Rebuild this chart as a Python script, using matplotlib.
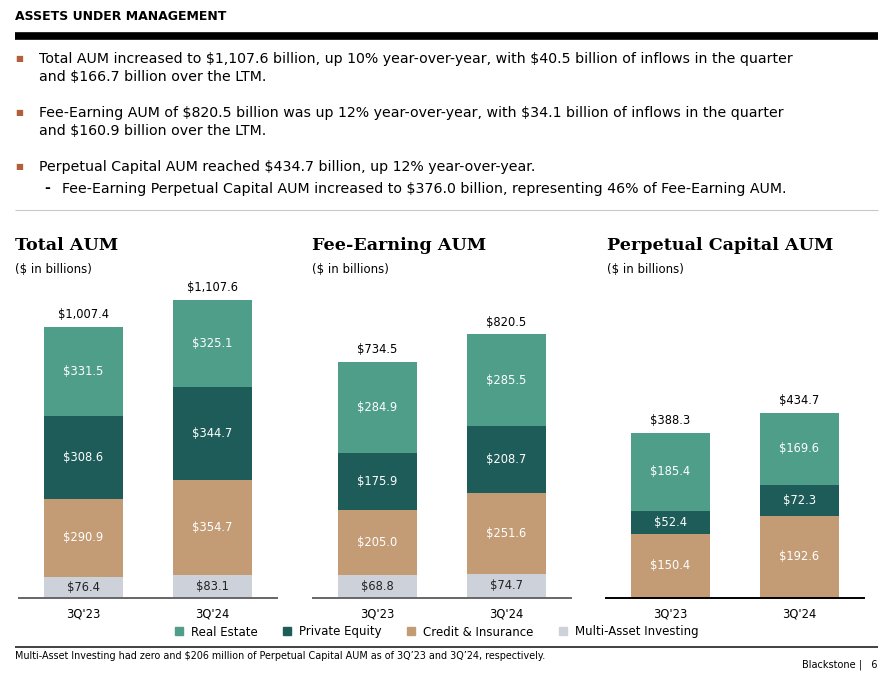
import numpy as np
import matplotlib.pyplot as plt
from matplotlib.lines import Line2D

plt.rcParams['text.parse_math'] = False
plt.rcParams['font.family'] = ['DejaVu Sans']

# data ($ in billions)
quarters = ["3Q'23", "3Q'24"]
segments = ["Real Estate", "Private Equity", "Credit & Insurance", "Multi-Asset Investing"]
colors = ["#4f9e8a", "#1e5c59", "#c39c76", "#cdd1d9"]

total_re = [331.5, 325.1]
total_pe = [308.6, 344.7]
total_ci = [290.9, 354.7]
total_mai = [76.4, 83.1]
total_sum = [1007.4, 1107.6]

fee_re = [284.9, 285.5]
fee_pe = [175.9, 208.7]
fee_ci = [205.0, 251.6]
fee_mai = [68.8, 74.7]
fee_sum = [734.5, 820.5]

perp_re = [185.4, 169.6]
perp_pe = [52.4, 72.3]
perp_ci = [150.4, 192.6]
perp_mai = [0.0, 0.2]
perp_sum = [388.3, 434.7]

W, H = 891, 677
fig = plt.figure(figsize=(W / 100, H / 100), dpi=100)


def px(x, y):
    # pixel coords (top-left origin) -> figure fraction
    return x / W, 1 - y / H


def ftext(x, y, s, **kw):
    fx, fy = px(x, y)
    fig.text(fx, fy, s, **kw)


def hline(x0, x1, y, lw, color):
    fig.add_artist(Line2D([x0 / W, x1 / W], [1 - y / H, 1 - y / H], lw=lw, color=color,
                          solid_capstyle='butt', transform=fig.transFigure))


# header
ftext(15, 17, "ASSETS UNDER MANAGEMENT", fontsize=9, fontweight='bold', va='center')
hline(15, 878, 36, 5.5, 'black')

bullet_color = "#b0603a"
body = 10.2
bullets = [
    (59, "Total AUM increased to $1,107.6 billion, up 10% year-over-year, with $40.5 billion of inflows in the quarter"),
    (77, "and $166.7 billion over the LTM."),
    (113, "Fee-Earning AUM of $820.5 billion was up 12% year-over-year, with $34.1 billion of inflows in the quarter"),
    (131, "and $160.9 billion over the LTM."),
    (167, "Perpetual Capital AUM reached $434.7 billion, up 12% year-over-year."),
]
for y, s in bullets:
    ftext(39, y, s, fontsize=body, va='center')
for y in (59, 113, 167):
    ftext(15, y - 1, "\u25a0", fontsize=6, color=bullet_color, va='center')
ftext(44, 188, "-", fontsize=body, fontweight='bold', va='center')
ftext(62, 189, "Fee-Earning Perpetual Capital AUM increased to $376.0 billion, representing 46% of Fee-Earning AUM.",
      fontsize=body, va='center')
hline(15, 878, 210, 0.8, '#c8c8c8')

# charts
charts = [
    ("Total AUM", 15, 19, [total_re, total_pe, total_ci, total_mai], total_sum, 1181, '#666666'),
    ("Fee-Earning AUM", 312, 313, [fee_re, fee_pe, fee_ci, fee_mai], fee_sum, 990, '#666666'),
    ("Perpetual Capital AUM", 607, 606, [perp_re, perp_pe, perp_ci, perp_mai], perp_sum, 747, 'black'),
]

ax_top, ax_bot = 280, 597.5
x = np.arange(len(quarters))
for title, tx, axl, series, sums, ymax, spine_c in charts:
    ftext(tx, 246, title, fontsize=12.6, fontweight='bold', family='DejaVu Serif', va='center')
    ftext(tx, 270, "($ in billions)", fontsize=8.5, va='center')
    l, b = px(axl, ax_bot)
    ax = fig.add_axes([l, b, 258 / W, (ax_bot - ax_top) / H])
    ax.set_xlim(-0.5, 1.5)
    ax.set_ylim(0, ymax)
    # stack from bottom: MAI, Credit, PE, RE
    order = [3, 2, 1, 0]
    bottom = np.zeros(len(quarters))
    for k in order:
        vals = np.array(series[k])
        ax.bar(x, vals, 0.605, bottom=bottom, color=colors[k], edgecolor='none')
        for i, v in enumerate(vals):
            if v >= 1:
                tc = '#222222' if k == 3 else 'white'
                ax.text(x[i], bottom[i] + v / 2, "$%.1f" % v, ha='center', va='center',
                        fontsize=8.3, color=tc)
        bottom = bottom + vals
    for i, s in enumerate(sums):
        ax.annotate("${:,.1f}".format(s), (x[i], bottom[i]), xytext=(0, 4),
                    textcoords='offset points', ha='center', va='bottom', fontsize=8.3)
    for sp in ['top', 'left', 'right']:
        ax.spines[sp].set_visible(False)
    ax.spines['bottom'].set_color(spine_c)
    ax.spines['bottom'].set_linewidth(1.4)
    ax.set_yticks([])
    ax.set_xticks(x, quarters, fontsize=8.3)
    ax.tick_params(axis='x', length=0, pad=7)
    ax.patch.set_alpha(0)

# legend
handles = [Line2D([], [], marker='s', linestyle='none', markersize=6, color=c) for c in colors]
fx, fy = px(436, 632)
fig.legend(handles, segments, loc='center', bbox_to_anchor=(fx, fy), ncol=4, frameon=False,
           fontsize=8.5, handletextpad=0.5, columnspacing=2.0, handlelength=1.0)

hline(15, 878, 647, 1.3, '#333333')
ftext(15, 656, "Multi-Asset Investing had zero and $206 million of Perpetual Capital AUM as of 3Q\u201923 and 3Q\u201924, respectively.",
      fontsize=6.9, va='center')
ftext(878, 665, "Blackstone |   6", fontsize=7, va='center', ha='right')

fig.savefig("out.png", dpi=100)
